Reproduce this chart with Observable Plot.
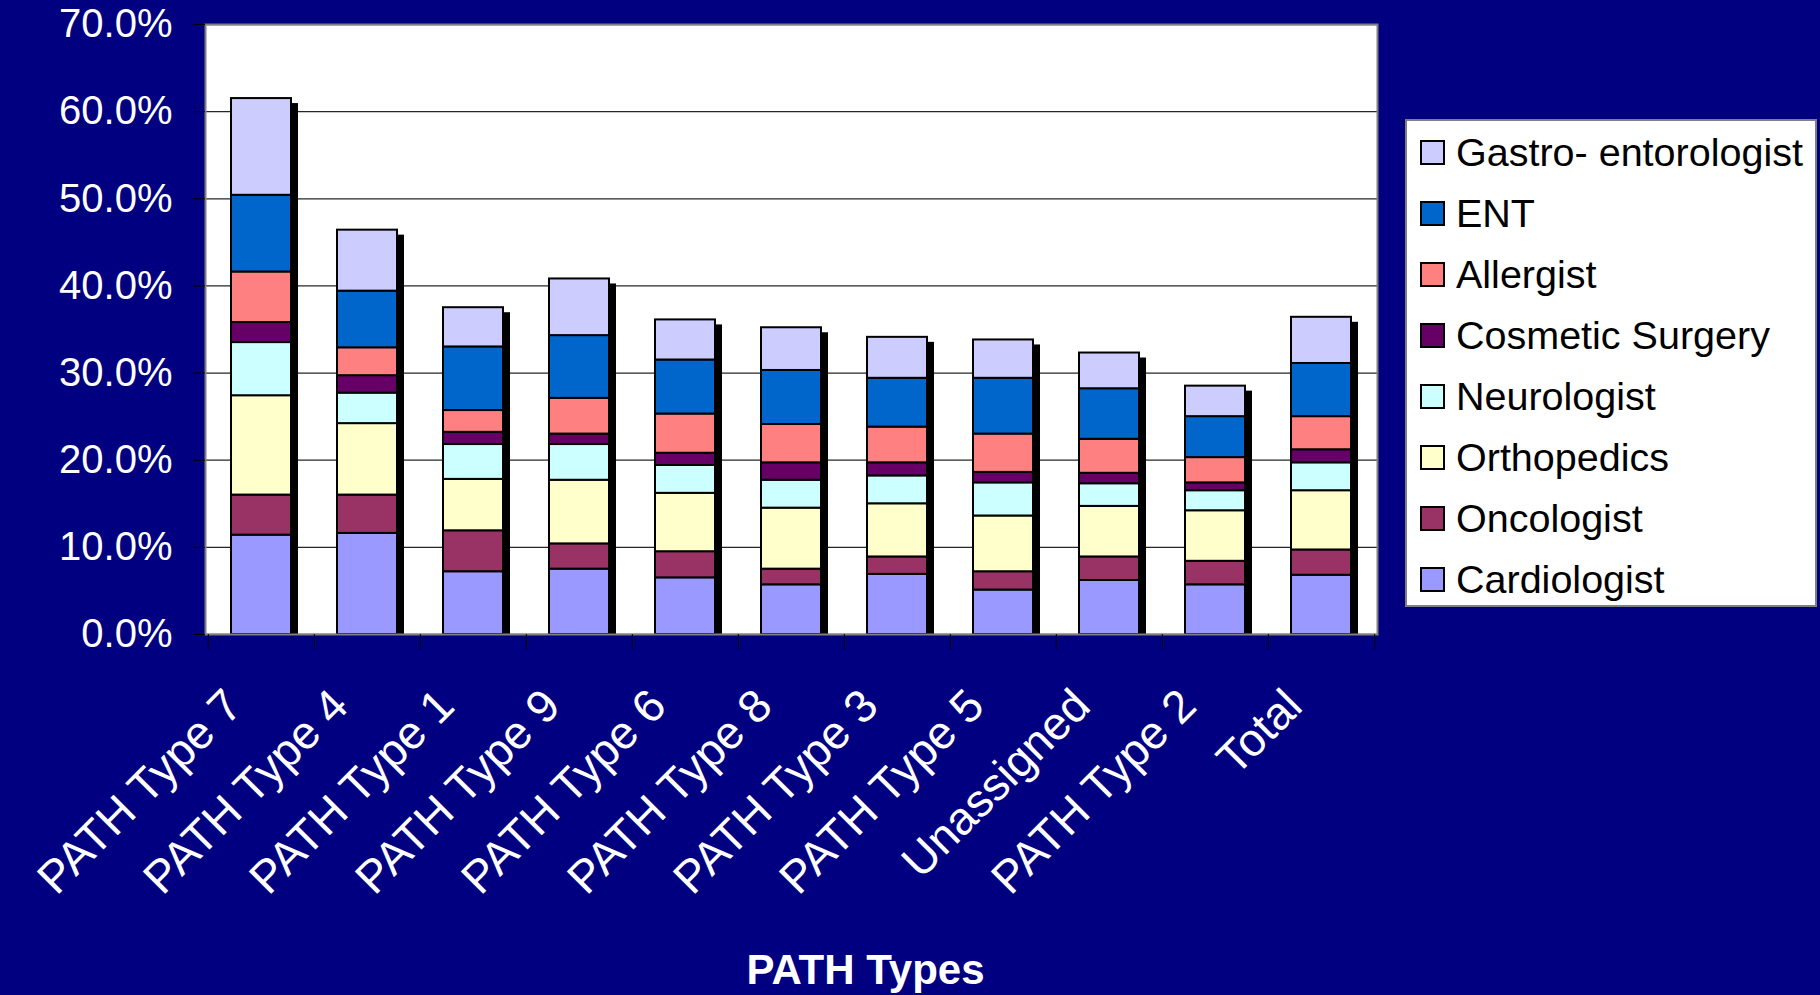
<!DOCTYPE html>
<html>
<head>
<meta charset="utf-8">
<script src="https://cdn.jsdelivr.net/npm/d3@7"></script>
<script src="https://cdn.jsdelivr.net/npm/@observablehq/plot@0.6"></script>
<style>
  html, body { margin: 0; padding: 0; background: #000080; overflow: hidden; }
  #wrap { position: relative; width: 1820px; height: 995px; font-family: "Liberation Sans", Arial, sans-serif; }
  #legend { position: absolute; left: 1405px; top: 119px; width: 408px; height: 484px;
            background: #fff; border: 2px solid #808080; box-sizing: content-box; }
  .row { position: absolute; left: 0; height: 40px; display: flex; align-items: center; }
  .sw { width: 21px; height: 21px; border: 2px solid #000; margin-left: 13px; margin-right: 11px; }
  .lb { font-size: 39.5px; color: #000; white-space: nowrap; line-height: 40px; }
  g[aria-label="x-labels"] text { letter-spacing: 1px; }
</style>
</head>
<body>
<div id="wrap"><div id="chart"></div><div id="legend"></div></div>
<script>
const categories = ["PATH Type 7","PATH Type 4","PATH Type 1","PATH Type 9","PATH Type 6","PATH Type 8","PATH Type 3","PATH Type 5","Unassigned","PATH Type 2","Total"];
const specialties = ["Cardiologist","Oncologist","Orthopedics","Neurologist","Cosmetic Surgery","Allergist","ENT","Gastro- entorologist"];
const colors = ["#9999FF","#993366","#FFFFCC","#CCFFFF","#660066","#FF8080","#0066CC","#CCCCFF"];

// values in percent, one array per specialty, in category order
const cardiologist = [11.4, 11.6, 7.2, 7.5, 6.5, 5.7, 6.9, 5.1, 6.2, 5.7, 6.8];
const oncologist   = [4.6, 4.4, 4.7, 2.9, 3.0, 1.8, 2.0, 2.1, 2.7, 2.7, 2.9];
const orthopedics  = [11.4, 8.2, 5.9, 7.3, 6.7, 7.0, 6.1, 6.4, 5.8, 5.8, 6.8];
const neurologist  = [6.1, 3.5, 4.0, 4.1, 3.2, 3.2, 3.2, 3.8, 2.6, 2.3, 3.2];
const cosmetic     = [2.3, 2.0, 1.4, 1.2, 1.4, 2.0, 1.5, 1.2, 1.2, 0.9, 1.5];
const allergist    = [5.8, 3.2, 2.5, 4.1, 4.5, 4.4, 4.1, 4.4, 3.9, 2.9, 3.8];
const ent          = [8.8, 6.5, 7.3, 7.2, 6.2, 6.2, 5.6, 6.4, 5.8, 4.7, 6.1];
const gastro       = [11.1, 7.0, 4.5, 6.5, 4.6, 4.9, 4.7, 4.4, 4.1, 3.5, 5.3];
const yTicks = [0, 10, 20, 30, 40, 50, 60, 70];

const series = [cardiologist, oncologist, orthopedics, neurologist, cosmetic, allergist, ent, gastro];
const data = [];
categories.forEach((c, i) => series.forEach((s, j) => data.push({cat: c, spec: specialties[j], value: s[i]})));
const totals = categories.map((c, i) => ({cat: c, total: d3.sum(series, s => s[i])}));

const font = "Liberation Sans, Arial, sans-serif";
const chart = Plot.plot({
  width: 1820,
  height: 995,
  marginLeft: 205,
  marginRight: 443,
  marginTop: 24,
  marginBottom: 361,
  style: {background: "#000080", color: "white", fontFamily: font, fontSize: "40px", overflow: "visible"},
  x: {domain: categories, paddingInner: 0.43, paddingOuter: 0.215, axis: null},
  y: {domain: [0, 70], axis: null},
  color: {domain: specialties, range: colors},
  marks: [
    Plot.frame({fill: "white", stroke: null}),
    Plot.gridY(yTicks, {stroke: "black", strokeOpacity: 0.85, strokeWidth: 1.3}),
    Plot.barY(totals, {x: "cat", y: "total", fill: "black", insetTop: 5, insetLeft: 7, insetRight: -7}),
    Plot.barY(data, {x: "cat", y: "value", fill: "spec", stroke: "black", strokeWidth: 2, order: specialties}),
    Plot.frame({stroke: "#808080", strokeWidth: 2}),
    Plot.axisY({ticks: yTicks, tickFormat: d => d.toFixed(1) + "%", tickSize: 12, tickPadding: 21,
                stroke: "black", fill: "white", fontSize: 40, label: null}),
    Plot.axisX({tickSize: 15, text: null, stroke: "black", dx: -53.2, label: null}),
    Plot.axisX(categories.slice(-1), {tickSize: 15, text: null, stroke: "black", dx: 53.2, label: null}),
    Plot.text(categories, {x: d => d, frameAnchor: "bottom", rotate: -45, textAnchor: "end", lineAnchor: "bottom",
                           dx: -17, dy: 74, fill: "white", fontSize: 46, ariaLabel: "x-labels"}),
    Plot.text(["PATH Types"], {frameAnchor: "bottom", dx: 74, dy: 336, fill: "white", fontSize: 42,
                               fontWeight: "bold", lineAnchor: "middle"})
  ]
});
document.getElementById("chart").appendChild(chart);

// legend (top to bottom: reverse stacking order)
const legend = document.getElementById("legend");
specialties.slice().reverse().forEach((s, i) => {
  const j = specialties.indexOf(s);
  const row = document.createElement("div");
  row.className = "row";
  row.style.top = (11 + i * 61) + "px";
  row.innerHTML = `<div class="sw" style="background:${colors[j]}"></div><div class="lb">${s}</div>`;
  legend.appendChild(row);
});
</script>
</body>
</html>
